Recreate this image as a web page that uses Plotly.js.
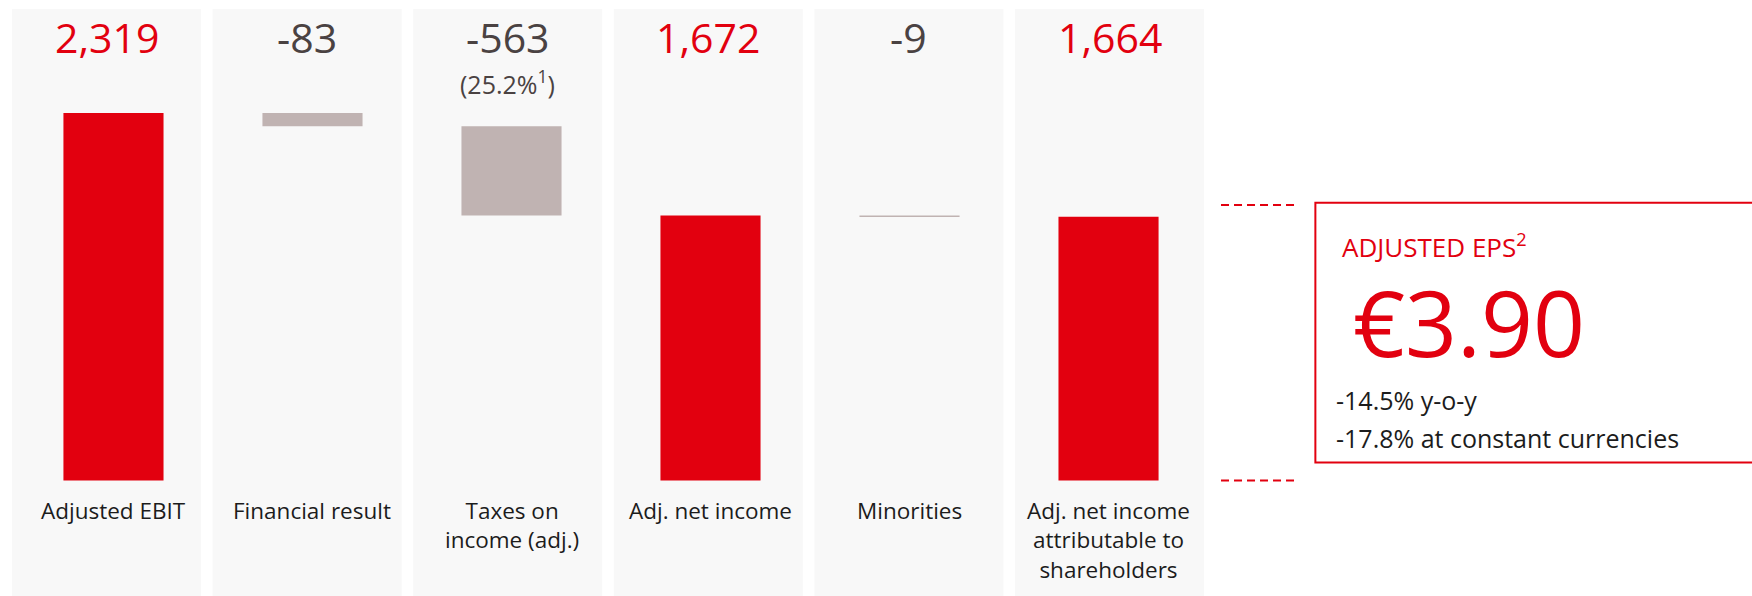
<!DOCTYPE html>
<html>
<head>
<meta charset="utf-8">
<script src="https://cdn.plot.ly/plotly-3.0.1.min.js"></script>
<style>
html, body { margin: 0; padding: 0; background: #ffffff; }
#chart { width: 1752px; height: 596px; }
</style>
</head>
<body>
<div id="chart"></div>
<script>
// ---- data ----
const categories = ['Adjusted EBIT', 'Financial result', 'Taxes on<br>income (adj.)', 'Adj. net income', 'Minorities', 'Adj. net income<br>attributable to<br>shareholders'];
const values = [2319, -83, -563, 1672, -9, 1664];
const measures = ['absolute', 'relative', 'relative', 'absolute', 'relative', 'absolute'];
const valueLabels = ['2,319', '-83', '-563', '1,672', '-9', '1,664'];
const valueNotes = ['', '', '(25.2%<sup>1</sup>)', '', '', ''];
const epsTitle = 'ADJUSTED EPS<sup>2</sup>';
const epsValue = '€3.90';
const epsNotes = ['-14.5% y-o-y', '-17.8% at constant currencies'];

// ---- style ----
const RED = '#E2000F';
const GREY_BAR = '#C0B3B2';
const PANEL = '#F8F8F8';
const DARK = '#4A4242';
const LABEL = '#1C1C1C';
const FONT = 'Open Sans, Noto Sans, sans-serif';

const idx = categories.map((_, i) => i);
// background panel centre for each category (slightly different pitch than the bars)
const panelCenter = i => -0.035 + 1.008 * i;
const panelHalf = 0.475;

const trace = {
  type: 'waterfall',
  x: idx,
  y: values,
  measure: measures,
  width: 0.503,
  connector: { visible: false },
  increasing: { marker: { color: RED } },
  decreasing: { marker: { color: GREY_BAR } },
  totals: { marker: { color: RED } },
  textinfo: 'none',
  hoverinfo: 'skip',
  showlegend: false
};

const shapes = idx.map(i => ({
  type: 'rect', xref: 'x', yref: 'paper', layer: 'below',
  x0: panelCenter(i) - panelHalf, x1: panelCenter(i) + panelHalf,
  y0: 0.0, y1: 1.0,
  fillcolor: PANEL, line: { width: 0 }
}));

// dashed guide lines and EPS box
shapes.push(
  { type: 'line', xref: 'paper', yref: 'paper', x0: 1.0075, x1: 1.0724, y0: 0.666, y1: 0.666,
    line: { color: RED, width: 2, dash: '8px,5px' } },
  { type: 'line', xref: 'paper', yref: 'paper', x0: 1.0075, x1: 1.0724, y0: 0.1968, y1: 0.1968,
    line: { color: RED, width: 2, dash: '8px,5px' } },
  { type: 'rect', xref: 'paper', yref: 'paper', x0: 1.086, x1: 1.46, y0: 0.2274, y1: 0.670,
    line: { color: RED, width: 2 }, fillcolor: 'rgba(0,0,0,0)' }
);

const annotations = [];
idx.forEach(i => {
  annotations.push({
    x: panelCenter(i), xref: 'x', y: 0.9516, yref: 'paper', yanchor: 'middle', xanchor: 'center',
    text: valueLabels[i], showarrow: false, borderpad: 0,
    font: { family: FONT, size: 41, color: values[i] < 0 ? DARK : RED }
  });
  if (valueNotes[i]) {
    annotations.push({
      x: panelCenter(i), xref: 'x', y: 0.8748, yref: 'paper', yanchor: 'middle', xanchor: 'center',
      text: valueNotes[i], showarrow: false, borderpad: 0,
      font: { family: FONT, size: 25, color: DARK }
    });
  }
  annotations.push({
    x: i, xref: 'x', y: 0.1735, yref: 'paper', yanchor: 'top', xanchor: 'center',
    text: categories[i], showarrow: false, align: 'center', borderpad: 0,
    font: { family: FONT, size: 22.5, color: LABEL }
  });
});

annotations.push(
  { x: 1.1077, xref: 'paper', y: 0.597, yref: 'paper', xanchor: 'left', yanchor: 'middle',
    text: epsTitle, showarrow: false, borderpad: 0, font: { family: FONT, size: 26, color: RED } },
  { x: 1.1163, xref: 'paper', y: 0.4662, yref: 'paper', xanchor: 'left', yanchor: 'middle',
    text: epsValue, showarrow: false, borderpad: 0, font: { family: FONT, size: 91, color: RED } },
  { x: 1.1023, xref: 'paper', y: 0.3335, yref: 'paper', xanchor: 'left', yanchor: 'middle',
    text: epsNotes[0], showarrow: false, borderpad: 0, font: { family: FONT, size: 25, color: LABEL } },
  { x: 1.1023, xref: 'paper', y: 0.2688, yref: 'paper', xanchor: 'left', yanchor: 'middle',
    text: epsNotes[1], showarrow: false, borderpad: 0, font: { family: FONT, size: 25, color: LABEL } }
);

const layout = {
  width: 1752, height: 596,
  margin: { l: 10, r: 540, t: 9, b: 0, pad: 0 },
  paper_bgcolor: '#ffffff',
  plot_bgcolor: 'rgba(0,0,0,0)',
  font: { family: FONT },
  xaxis: { type: 'linear', range: [-0.52, 5.52], showgrid: false, zeroline: false,
           showticklabels: false, showline: false, ticks: '', fixedrange: true },
  yaxis: { range: [-728.8, 2975.3], showgrid: false, zeroline: false,
           showticklabels: false, showline: false, ticks: '', fixedrange: true },
  shapes: shapes,
  annotations: annotations,
  showlegend: false,
  hovermode: false
};

Plotly.newPlot('chart', [trace], layout, { displayModeBar: false, staticPlot: true });
</script>
</body>
</html>
